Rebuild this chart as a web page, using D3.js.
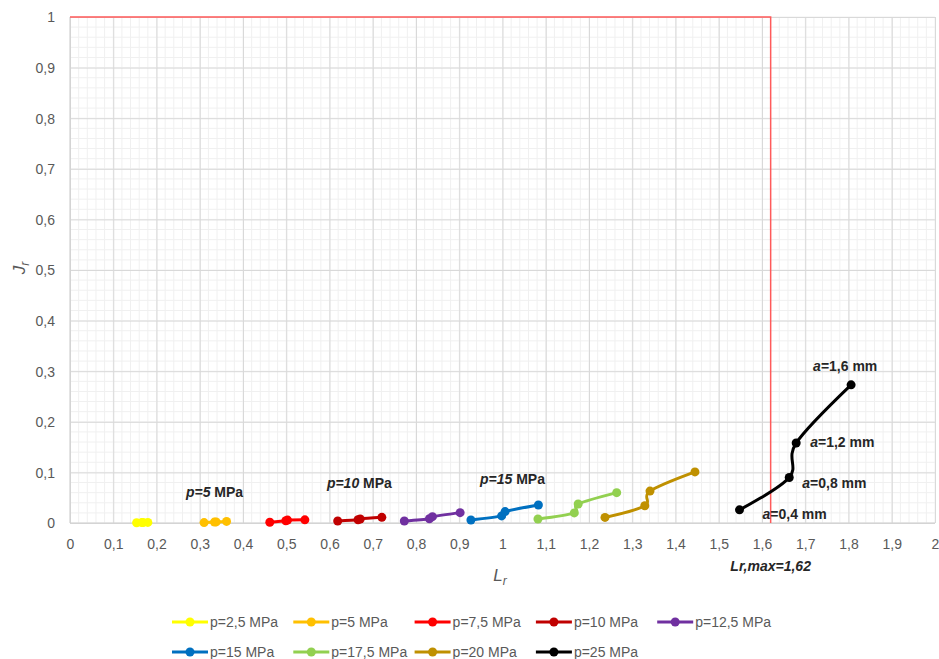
<!DOCTYPE html>
<html>
<head>
<meta charset="utf-8">
<script src="https://cdn.jsdelivr.net/npm/d3@7"></script>
<style>
  body { margin: 0; background: #fff; }
  svg { display: block; font-family: "Liberation Sans", Arial, sans-serif; }
</style>
</head>
<body>
<svg id="chart" width="939" height="659"></svg>
<script>
// Series: internal pressure p, each with four crack depths a = 0.4, 0.8, 1.2, 1.6 mm
const seriesNames = ["p=2,5 MPa", "p=5 MPa", "p=7,5 MPa", "p=10 MPa", "p=12,5 MPa",
                     "p=15 MPa", "p=17,5 MPa", "p=20 MPa", "p=25 MPa"];
const seriesColors = ["#FFFF00", "#FFC000", "#FF0000", "#C00000", "#7030A0",
                      "#0070C0", "#92D050", "#BF9000", "#000000"];

const lr_p2_5  = [0.154, 0.166, 0.169, 0.180];
const jr_p2_5  = [0.0005, 0.0008, 0.0009, 0.0012];
const lr_p5    = [0.310, 0.334, 0.338, 0.362];
const jr_p5    = [0.0008, 0.0018, 0.0022, 0.0032];
const lr_p7_5  = [0.462, 0.499, 0.503, 0.543];
const jr_p7_5  = [0.0014, 0.0045, 0.0058, 0.0062];
const lr_p10   = [0.619, 0.666, 0.671, 0.721];
const jr_p10   = [0.0040, 0.0065, 0.0080, 0.0112];
const lr_p12_5 = [0.773, 0.831, 0.838, 0.902];
const jr_p12_5 = [0.0040, 0.0085, 0.0125, 0.0205];
const lr_p15   = [0.927, 0.998, 1.006, 1.083];
const jr_p15   = [0.0060, 0.0140, 0.0225, 0.0355];
const lr_p17_5 = [1.082, 1.166, 1.175, 1.264];
const jr_p17_5 = [0.0080, 0.0200, 0.0375, 0.0600];
const lr_p20   = [1.237, 1.329, 1.341, 1.445];
const jr_p20   = [0.0110, 0.0340, 0.0630, 0.1010];
const lr_p25   = [1.548, 1.663, 1.679, 1.806];
const jr_p25   = [0.0260, 0.0900, 0.1580, 0.2730];

const lrSeries = [lr_p2_5, lr_p5, lr_p7_5, lr_p10, lr_p12_5, lr_p15, lr_p17_5, lr_p20, lr_p25];
const jrSeries = [jr_p2_5, jr_p5, jr_p7_5, jr_p10, jr_p12_5, jr_p15, jr_p17_5, jr_p20, jr_p25];

const crackDepths = ["0,4", "0,8", "1,2", "1,6"];
const lrMax = 1.62;

const xTicks = d3.range(0, 21).map(d => d / 10);
const yTicks = d3.range(0, 11).map(d => d / 10);

// Pressure labels placed next to their curves (data coordinates)
const pLabels = [
  { p: "5",  lr: 0.268, jr: 0.051 },
  { p: "10", lr: 0.594, jr: 0.069 },
  { p: "15", lr: 0.948, jr: 0.077 }
];

const svg = d3.select("#chart");
const plotL = 70, plotR = 935, plotT = 17, plotB = 523;

const x = d3.scaleLinear().domain([0, 2]).range([plotL, plotR]);
const y = d3.scaleLinear().domain([0, 1]).range([plotB, plotT]);
const fmt = v => d3.format("~g")(+v.toFixed(2)).replace(".", ",");

// Minor grid
const minorX = d3.range(0, 101).map(d => d / 50);
const minorY = d3.range(0, 51).map(d => d / 50);
const grid = svg.append("g");
grid.selectAll(".mx").data(minorX).join("line")
  .attr("x1", d => x(d)).attr("x2", d => x(d)).attr("y1", plotT).attr("y2", plotB)
  .attr("stroke", "#f0f0f0").attr("stroke-width", 1);
grid.selectAll(".my").data(minorY).join("line")
  .attr("x1", plotL).attr("x2", plotR).attr("y1", d => y(d)).attr("y2", d => y(d))
  .attr("stroke", "#f0f0f0").attr("stroke-width", 1);

// Major grid via axes
const xGrid = svg.append("g").attr("transform", `translate(0,${plotB})`)
  .call(d3.axisBottom(x).tickValues(xTicks).tickSize(-(plotB - plotT)).tickFormat(""));
xGrid.select(".domain").remove();
xGrid.selectAll("line").attr("stroke", "#d9d9d9");
const yGrid = svg.append("g").attr("transform", `translate(${plotL},0)`)
  .call(d3.axisLeft(y).tickValues(yTicks).tickSize(-(plotR - plotL)).tickFormat(""));
yGrid.select(".domain").remove();
yGrid.selectAll("line").attr("stroke", "#d9d9d9");

// Axis lines
svg.append("line").attr("x1", plotL).attr("x2", plotR).attr("y1", plotB).attr("y2", plotB)
  .attr("stroke", "#d0d0d0");
svg.append("line").attr("x1", plotL).attr("x2", plotL).attr("y1", plotT).attr("y2", plotB)
  .attr("stroke", "#d0d0d0");

// Tick labels
const xAxis = svg.append("g").attr("transform", `translate(0,${plotB})`)
  .call(d3.axisBottom(x).tickValues(xTicks).tickSize(0).tickPadding(0).tickFormat(fmt));
xAxis.select(".domain").remove();
xAxis.selectAll("text").attr("y", 26).attr("dy", 0).attr("fill", "#595959")
  .style("font-size", "14px").style("font-family", "Liberation Sans, Arial, sans-serif");
const yAxis = svg.append("g").attr("transform", `translate(${plotL},0)`)
  .call(d3.axisLeft(y).tickValues(yTicks).tickSize(0).tickPadding(0).tickFormat(fmt));
yAxis.select(".domain").remove();
yAxis.selectAll("text").attr("x", -15).attr("dy", "0.35em").attr("fill", "#595959")
  .style("font-size", "14px").style("font-family", "Liberation Sans, Arial, sans-serif");

// Axis titles
const xt = svg.append("text").attr("x", 500).attr("y", 581).attr("text-anchor", "middle")
  .attr("fill", "#595959").style("font-size", "17px").style("font-style", "italic");
xt.append("tspan").text("L");
xt.append("tspan").text("r").attr("dy", 4).style("font-size", "12px");
const yt = svg.append("text").attr("transform", "translate(25,268) rotate(-90)")
  .attr("text-anchor", "middle").attr("fill", "#595959")
  .style("font-size", "17px").style("font-style", "italic");
yt.append("tspan").text("J");
yt.append("tspan").text("r").attr("dy", 4).style("font-size", "12px");

// Limit line Lr,max
svg.append("path")
  .attr("d", `M${x(0)},${y(1)}H${x(lrMax)}V${y(0)}`)
  .attr("fill", "none").attr("stroke", "#ff5a5a").attr("stroke-width", 1.5);

// Curves (smoothed, uniform Catmull-Rom)
const line = d3.line().x(d => x(d[0])).y(d => y(d[1])).curve(d3.curveCatmullRom.alpha(0));
seriesNames.forEach((name, i) => {
  const pts = lrSeries[i].map((v, k) => [v, jrSeries[i][k]]);
  const g = svg.append("g");
  g.append("path").attr("d", line(pts)).attr("fill", "none")
    .attr("stroke", seriesColors[i]).attr("stroke-width", 3).attr("stroke-linecap", "round");
  g.selectAll("circle").data(pts).join("circle")
    .attr("cx", d => x(d[0])).attr("cy", d => y(d[1])).attr("r", 4.5)
    .attr("fill", seriesColors[i]);
});

// Pressure annotations
pLabels.forEach(l => {
  const t = svg.append("text").attr("x", x(l.lr)).attr("y", y(l.jr))
    .attr("fill", "#262626").style("font-size", "14px").style("font-weight", "bold");
  t.append("tspan").text(`p=${l.p}`).style("font-style", "italic");
  t.append("tspan").text(" MPa");
});

// Crack depth annotations on the p=25 MPa curve
const aOffsets = [[23, 9], [13, 11], [14, 4], [-38, -14]];
crackDepths.forEach((a, k) => {
  const t = svg.append("text")
    .attr("x", x(lr_p25[k]) + aOffsets[k][0]).attr("y", y(jr_p25[k]) + aOffsets[k][1])
    .attr("fill", "#262626").style("font-size", "14px").style("font-weight", "bold");
  t.append("tspan").text("a").style("font-style", "italic");
  t.append("tspan").text(`=${a} mm`);
});

svg.append("text").attr("x", x(lrMax)).attr("y", 571).attr("text-anchor", "middle")
  .attr("fill", "#262626").style("font-size", "14px").style("font-weight", "bold")
  .style("font-style", "italic").text(`Lr,max=${fmt(lrMax)}`);

// Legend
const legend = svg.append("g");
seriesNames.forEach((name, i) => {
  const row = Math.floor(i / 5), col = i % 5;
  const lx = 172 + col * 121.3, ly = 622 + row * 30;
  const g = legend.append("g").attr("transform", `translate(${lx},${ly})`);
  g.append("line").attr("x1", 0).attr("x2", 36).attr("stroke", seriesColors[i]).attr("stroke-width", 3);
  g.append("circle").attr("cx", 18).attr("r", 4.5).attr("fill", seriesColors[i]);
  g.append("text").attr("x", 38).attr("dy", "0.35em").attr("fill", "#595959")
    .style("font-size", "14px").text(name);
});
</script>
</body>
</html>
